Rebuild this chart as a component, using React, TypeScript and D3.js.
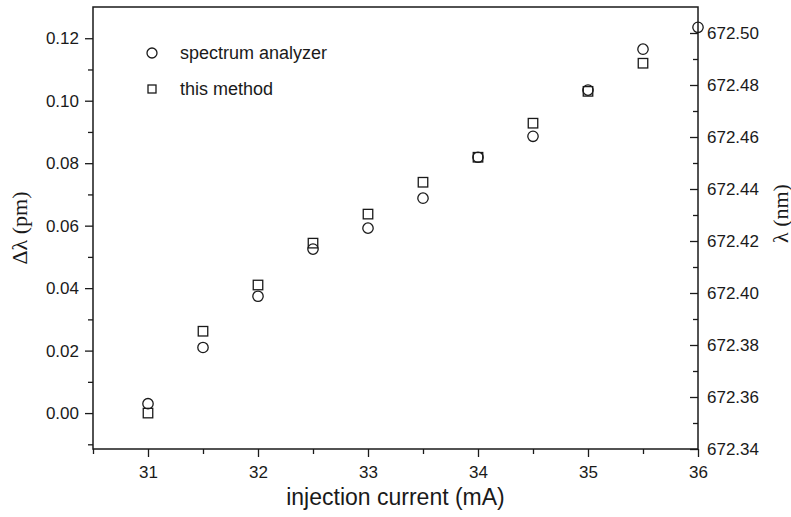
import React, { useEffect, useRef } from 'react';
import * as d3 from 'd3';

// injection current (mA)
const currents = [31, 31.5, 32, 32.5, 33, 33.5, 34, 34.5, 35, 35.5, 36];
// delta lambda (pm)
const analyzer = [0.003, 0.021, 0.0374, 0.0525, 0.0592, 0.0688, 0.0819, 0.0886, 0.1034, 0.1165, 0.1235];
const method = [0.0, 0.0262, 0.041, 0.0544, 0.0637, 0.0739, 0.0819, 0.0928, 0.103, 0.112];

const xMajor = [31, 32, 33, 34, 35, 36];
const xMinor = [30.5, 31.5, 32.5, 33.5, 34.5, 35.5];
const yMajor = [0, 0.02, 0.04, 0.06, 0.08, 0.1, 0.12];
const yMinor = [-0.01, 0.01, 0.03, 0.05, 0.07, 0.09, 0.11];
const rMajor = [672.34, 672.36, 672.38, 672.4, 672.42, 672.44, 672.46, 672.48, 672.5];
const rMinor = [672.35, 672.37, 672.39, 672.41, 672.43, 672.45, 672.47, 672.49];

const legendNames = ['spectrum analyzer', 'this method'];

const width = 791;
const height = 517;
const plot = { left: 93, right: 698, top: 7, bottom: 449 };
const ink = '#1a1a1a';
const sans = 'Liberation Sans, Arial, sans-serif';
const serif = 'Liberation Serif, Times New Roman, serif';

const App = () => {
  const ref = useRef<SVGSVGElement>(null);

  useEffect(() => {
    const svg = d3.select(ref.current);
    svg.selectAll('*').remove();

    const x = d3.scaleLinear([30.5, 36], [plot.left, plot.right]);
    const y = d3.scaleLinear([-0.0115, 0.13], [plot.bottom, plot.top]);
    const yR = d3.scaleLinear([672.34, 672.51], [plot.bottom, plot.top]);

    const styleAxis = (g: any) => {
      g.select('.domain').remove();
      g.selectAll('line').attr('stroke', ink).attr('stroke-width', 1.3);
      g.selectAll('text')
        .attr('fill', ink)
        .attr('font-family', sans)
        .attr('font-size', 17);
    };

    // bottom axis
    svg.append('g')
      .attr('transform', `translate(0,${plot.bottom})`)
      .call(d3.axisBottom(x).tickValues(xMajor).tickSize(8).tickPadding(9).tickFormat(d3.format('d')))
      .call(styleAxis);
    svg.append('g')
      .attr('transform', `translate(0,${plot.bottom})`)
      .call(d3.axisBottom(x).tickValues(xMinor).tickSize(5).tickFormat(() => ''))
      .call(styleAxis);

    // left axis
    svg.append('g')
      .attr('transform', `translate(${plot.left},0)`)
      .call(d3.axisLeft(y).tickValues(yMajor).tickSize(8).tickPadding(6).tickFormat(d3.format('.2f')))
      .call(styleAxis);
    svg.append('g')
      .attr('transform', `translate(${plot.left},0)`)
      .call(d3.axisLeft(y).tickValues(yMinor).tickSize(5).tickFormat(() => ''))
      .call(styleAxis);

    // right axis, ticks pointing in
    svg.append('g')
      .attr('transform', `translate(${plot.right},0)`)
      .call(d3.axisRight(yR).tickValues(rMajor).tickSizeInner(-8).tickSizeOuter(0).tickPadding(9).tickFormat(d3.format('.2f')))
      .call(styleAxis);
    svg.append('g')
      .attr('transform', `translate(${plot.right},0)`)
      .call(d3.axisRight(yR).tickValues(rMinor).tickSizeInner(-5).tickSizeOuter(0).tickFormat(() => ''))
      .call(styleAxis);

    // frame
    svg.append('rect')
      .attr('x', plot.left)
      .attr('y', plot.top)
      .attr('width', plot.right - plot.left)
      .attr('height', plot.bottom - plot.top)
      .attr('fill', 'none')
      .attr('stroke', ink)
      .attr('stroke-width', 1.5);

    // squares
    const sq = 9.5;
    svg.append('g')
      .selectAll('rect')
      .data(method)
      .join('rect')
      .attr('x', (d, i) => x(currents[i]) - sq / 2)
      .attr('y', d => y(d) - sq / 2)
      .attr('width', sq)
      .attr('height', sq)
      .attr('fill', 'none')
      .attr('stroke', ink)
      .attr('stroke-width', 1.3);

    // circles
    svg.append('g')
      .selectAll('circle')
      .data(analyzer)
      .join('circle')
      .attr('cx', (d, i) => x(currents[i]))
      .attr('cy', d => y(d))
      .attr('r', 5.2)
      .attr('fill', 'none')
      .attr('stroke', ink)
      .attr('stroke-width', 1.3);

    // legend
    const lg = svg.append('g').attr('font-family', sans).attr('font-size', 18).attr('fill', ink);
    lg.append('circle')
      .attr('cx', 152).attr('cy', 53).attr('r', 5)
      .attr('fill', 'none').attr('stroke', ink).attr('stroke-width', 1.3);
    lg.append('rect')
      .attr('x', 148).attr('y', 85).attr('width', 8).attr('height', 8)
      .attr('fill', 'none').attr('stroke', ink).attr('stroke-width', 1.3);
    lg.append('text').attr('x', 180).attr('y', 59).text(legendNames[0]);
    lg.append('text').attr('x', 180).attr('y', 95).text(legendNames[1]);

    // axis titles
    svg.append('text')
      .attr('x', (plot.left + plot.right) / 2)
      .attr('y', 505)
      .attr('text-anchor', 'middle')
      .attr('font-family', sans)
      .attr('font-size', 23)
      .attr('fill', ink)
      .text('injection current (mA)');

    svg.append('text')
      .attr('transform', `translate(27,${(plot.top + plot.bottom) / 2}) rotate(-90)`)
      .attr('text-anchor', 'middle')
      .attr('font-family', serif)
      .attr('font-size', 22)
      .attr('fill', ink)
      .text('Δλ (pm)');

    svg.append('text')
      .attr('transform', `translate(788,243) rotate(-90)`)
      .attr('font-family', serif)
      .attr('font-size', 22)
      .attr('fill', ink)
      .text('λ (nm)');
  }, []);

  return (
    <svg
      ref={ref}
      width={width}
      height={height}
      style={{ position: 'absolute', left: 0, top: 0, background: '#fff' }}
    />
  );
};

export default App;
